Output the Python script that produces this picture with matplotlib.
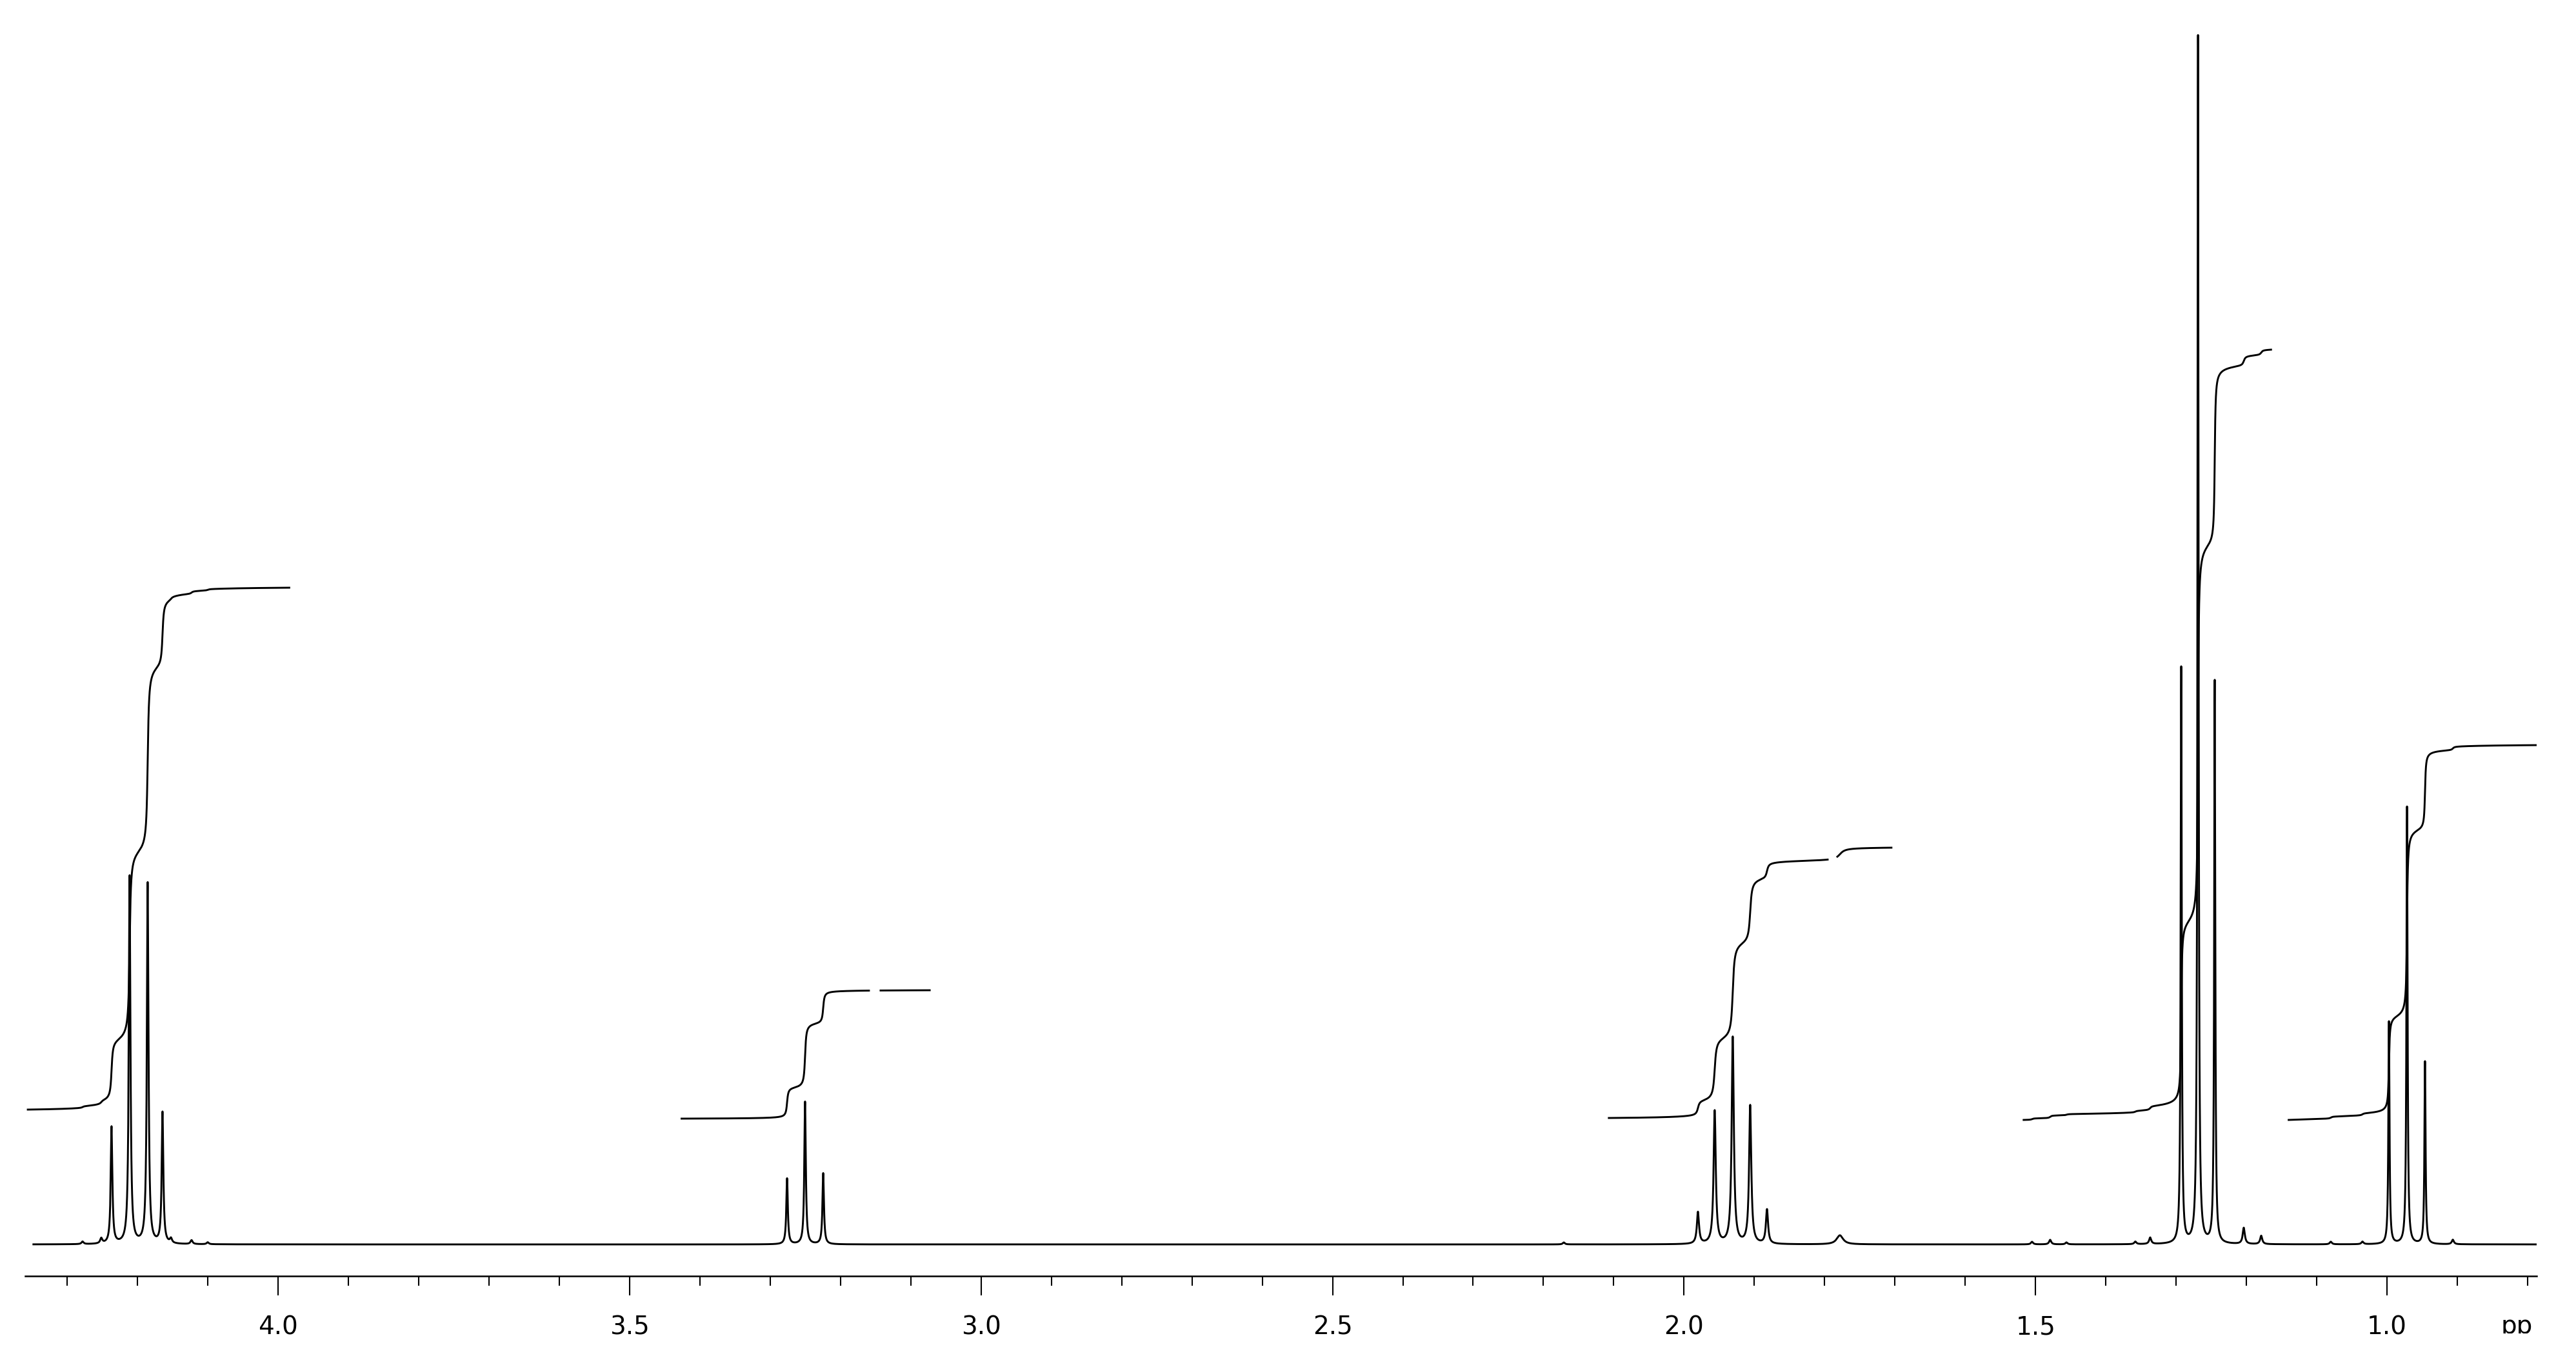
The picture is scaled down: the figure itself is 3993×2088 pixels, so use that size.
import numpy as np
import matplotlib
matplotlib.use("Agg")
import matplotlib.pyplot as plt
from matplotlib.ticker import MultipleLocator
from matplotlib.transforms import Bbox

plt.rcParams['font.family'] = ['DejaVu Sans']

# ---------------- data ----------------
# 1H NMR peaks: chemical shift (ppm), height above baseline, half width (ppm)
# OCH2 quartet ~4.20 ppm (+ small side lines)
g1_ppm = [4.2780, 4.2514, 4.2368, 4.2111, 4.1854, 4.1643, 4.1523, 4.1230, 4.1000]
g1_height = [4, 8, 181, 570, 559, 203, 7, 6, 3]
g1_hwhm = [0.0018, 0.0018, 0.00138, 0.00138, 0.00138, 0.00138, 0.0018, 0.0018, 0.0018]
# CH triplet ~3.25 ppm
g2_ppm = [3.2759, 3.2503, 3.2245]
g2_height = [102, 221, 110]
g2_hwhm = [0.00128, 0.00128, 0.00128]
# small line ~2.17 ppm
g0_ppm = [2.171]
g0_height = [3]
g0_hwhm = [0.0018]
# CH2 quintet ~1.93 ppm (+ broad bump 1.78)
g3_ppm = [1.9802, 1.9564, 1.9307, 1.9059, 1.8820, 1.7783]
g3_height = [49, 206, 320, 214, 53, 14]
g3_hwhm = [0.00184, 0.00184, 0.00184, 0.00184, 0.00184, 0.0055]
# CH3 triplet ~1.27 ppm (+ small lines)
g4_ppm = [1.5050, 1.4792, 1.4560, 1.3580, 1.3369, 1.2928, 1.2689, 1.2451, 1.2038, 1.1790]
g4_height = [4, 7, 3, 4, 10, 893, 1872, 872, 25, 13]
g4_hwhm = [0.0018, 0.0018, 0.0018, 0.0018, 0.0018, 0.00092, 0.00092, 0.00092, 0.0018, 0.0018]
# CH3 triplet ~0.97 ppm (+ small lines)
g5_ppm = [1.0800, 1.0349, 0.9973, 0.9716, 0.9460, 0.9064]
g5_height = [4, 4, 345, 678, 283, 7]
g5_hwhm = [0.0018, 0.0018, 0.00096, 0.00096, 0.00096, 0.0018]

baseline_level = 49
spectrum_range = (4.348, 0.787)

# integral traces: ppm range, start level, end level, pen-lift gap
int_start_ppm = [4.356, 3.426, 2.107, 1.517, 1.140]
int_end_ppm = [3.984, 3.073, 1.705, 1.165, 0.782]
int_start_level = [258, 244, 245, 242, 242]
int_end_level = [1067, 443, 664, 1436, 823]
int_gaps = [None, (3.1594, 3.1429), (1.7957, 1.7820), None, None]

major_ticks = [4.0, 3.5, 3.0, 2.5, 2.0, 1.5, 1.0]
major_labels = ["4.0", "3.5", "3.0", "2.5", "2.0", "1.5", "1.0"]
unit_label = "pp"
unit_label_ppm = 0.8156

# ---------------- build spectrum ----------------
peak_ppm = np.array(g1_ppm + g2_ppm + g0_ppm + g3_ppm + g4_ppm + g5_ppm)
peak_h = np.array(g1_height + g2_height + g0_height + g3_height + g4_height + g5_height, float)
peak_w = np.array(g1_hwhm + g2_hwhm + g0_hwhm + g3_hwhm + g4_hwhm + g5_hwhm)


def signal(x):
    s = np.zeros_like(x)
    for p, h, w in zip(peak_ppm, peak_h, peak_w):
        s += h / (1.0 + ((x - p) / w) ** 2)
    return s


lo, hi = min(spectrum_range), max(spectrum_range)
x = np.union1d(np.arange(lo, hi, 0.00005), peak_ppm[(peak_ppm > lo) & (peak_ppm < hi)])
y = baseline_level + signal(x)

W, H = 3993, 2088
fig = plt.figure(figsize=(W / 100, H / 100), dpi=100)
ax = fig.add_axes([39 / W, 110 / H, 3893 / W, 1978 / H])
ax.set_xlim(4.3597, 0.7872)
ax.set_ylim(0, 1978)

LW = 2.1
ax.plot(x, y, color='black', lw=LW, solid_joinstyle='round')

# integrals
for a, b, l0, l1, gap in zip(int_start_ppm, int_end_ppm, int_start_level,
                             int_end_level, int_gaps):
    xi = np.union1d(np.arange(min(a, b), max(a, b), 0.00005),
                    peak_ppm[(peak_ppm > min(a, b)) & (peak_ppm < max(a, b))])[::-1]
    si = signal(xi)
    cum = np.concatenate([[0], np.cumsum(0.5 * (si[1:] + si[:-1]) * np.abs(np.diff(xi)))])
    yi = l0 + (l1 - l0) * cum / cum[-1]
    if gap is not None:
        g_hi, g_lo = max(gap), min(gap)
        yi = np.where((xi < g_hi) & (xi > g_lo), np.nan, yi)
    ax.plot(xi, yi, color='black', lw=LW, solid_joinstyle='round')

# axis styling
for s in ['top', 'left', 'right']:
    ax.spines[s].set_visible(False)
ax.spines['bottom'].set_linewidth(1.8)
ax.set_yticks([])
ax.set_xticks(major_ticks)
ax.set_xticklabels(major_labels)
ax.xaxis.set_minor_locator(MultipleLocator(0.1))
ax.tick_params(axis='x', which='major', direction='out', length=21.6, width=1.5,
               pad=22, labelsize=28, colors='black')
ax.tick_params(axis='x', which='minor', direction='out', length=10.8, width=1.5)

t = ax.text(unit_label_ppm, -89, unit_label, ha='center', va='baseline',
            fontsize=28, color='black', clip_on=True)
t.set_clip_box(Bbox.from_extents(3700, 110 - 89, W, 110))

fig.savefig('out.png', dpi=100, facecolor='white')
